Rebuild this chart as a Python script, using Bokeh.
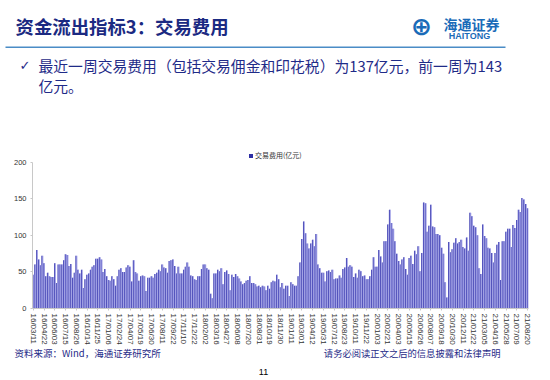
from bokeh.plotting import figure
from bokeh.layouts import column
from bokeh.models import (ColumnDataSource, Range1d, FixedTicker, Label, Legend,
                          LegendItem, BoxAnnotation)
from bokeh.embed import file_html
from bokeh.resources import INLINE

# ---------------- data ----------------
fees = [
    46, 60, 80, 67, 59, 72, 62, 44, 49, 44,
    43, 43, 62, 35, 60, 60, 60, 66, 74, 73,
    58, 61, 42, 49, 72, 53, 48, 53, 28, 40,
    46, 48, 53, 57, 59, 68, 68, 70, 67, 50,
    54, 44, 39, 38, 44, 40, 31, 44, 53, 55,
    50, 50, 56, 59, 57, 37, 66, 50, 48, 38,
    44, 45, 44, 24, 42, 42, 44, 42, 47, 49,
    53, 51, 60, 56, 55, 49, 65, 66, 67, 58,
    48, 57, 48, 48, 53, 57, 63, 57, 45, 44,
    40, 39, 44, 44, 54, 60, 60, 55, 53, 20,
    14, 48, 48, 53, 51, 55, 33, 50, 52, 47,
    25, 46, 43, 47, 44, 41, 37, 33, 35, 38,
    39, 44, 35, 35, 33, 30, 31, 29, 31, 30,
    25, 31, 27, 36, 38, 37, 46,
    40, 29, 35, 27, 31, 31, 17, 36, 33, 31,
    31, 44, 63, 95, 119, 103, 89, 82, 89, 94,
    85, 102, 60, 55, 49, 49, 37, 51, 52, 50,
    53, 40, 41, 41, 45, 42, 54, 56, 69,
    57, 59, 57, 43, 48, 42, 53, 51, 44, 45,
    40, 40, 44, 53, 70, 57, 57, 80, 71, 63,
    92, 92, 115, 135, 117, 109, 92, 75, 65, 60,
    67, 70, 54, 46, 69, 72, 61, 79, 74, 85,
    51, 76, 145, 144, 105, 113, 142, 112, 111, 102,
    102, 100, 83, 75, 36, 15, 91, 77, 81, 90,
    96, 89, 91, 94, 84, 82, 97, 79, 131, 126,
    113, 111, 100, 55, 47, 115, 99, 96, 83, 82,
    76, 63, 76, 87, 91, 39, 92, 92, 105, 109,
    109, 84, 114, 110, 121, 135, 132, 151, 149, 143,
    137,
]

tick_labels = [
    "16/03/11", "16/04/22", "16/06/03", "16/07/15", "16/08/26", "16/10/14",
    "16/11/25", "17/01/06", "17/02/24", "17/04/07", "17/05/19", "17/06/30",
    "17/08/11", "17/09/22", "17/11/10", "17/12/22", "18/02/02", "18/03/16",
    "18/04/27", "18/06/08", "18/07/20", "18/08/31", "18/10/19", "18/11/30",
    "19/01/11", "19/03/01", "19/04/12", "19/05/31", "19/07/12", "19/08/23",
    "19/10/11", "19/11/22", "20/01/03", "20/02/21", "20/04/03", "20/05/15",
    "20/06/26", "20/08/07", "20/09/18", "20/10/30", "20/12/11", "21/01/22",
    "21/03/05", "21/04/16", "21/05/28", "21/07/09", "21/08/20",
]
tick_step = 6
y_ticks = [0, 50, 100, 150, 200]
y_max = 200
series_name = "交易费用(亿元)"

title_text = "资金流出指标3：交易费用"
bullet_line1 = "最近一周交易费用（包括交易佣金和印花税）为137亿元，前一周为143"
bullet_line2 = "亿元。"
source_text = "资料来源：Wind，海通证券研究所"
disclaimer_text = "请务必阅读正文之后的信息披露和法律声明"
page_no = "11"

CJK = "Noto Sans CJK SC"
LAT = "Liberation Sans"
NAVY = "#1f2b88"
W = 550
HDR_H, CHART_H, FTR_H = 100, 247, 33


def no_align(f):
    try:
        f.frame_align = False
    except Exception:
        pass


def blank_fig(h):
    f = figure(width=W, height=h, output_backend="svg", toolbar_location=None,
               x_range=Range1d(0, W), y_range=Range1d(h, 0),
               x_axis_location=None, y_axis_location=None,
               min_border=0, min_border_left=0, min_border_right=0,
               min_border_top=0, min_border_bottom=0)
    f.grid.visible = False
    f.outline_line_color = None
    f.background_fill_color = "white"
    f.border_fill_color = "white"
    no_align(f)
    return f


def add_label(f, text, x, y, size, color, font=CJK, bold=False,
              align="left", baseline="middle"):
    f.add_layout(Label(x=x, y=y, text=text, text_font=font, text_font_size=size,
                       text_color=color,
                       text_font_style="bold" if bold else "normal",
                       text_align=align, text_baseline=baseline))


# ---------------- header (page coordinates) ----------------
hdr = blank_fig(HDR_H)
add_label(hdr, title_text, 15, 25, "18.4px", "#1b2a82", bold=True)
hdr.add_layout(BoxAnnotation(left=5, right=505, top=46, bottom=47.5,
                             fill_color="#4a8cc6", fill_alpha=1, line_color=None))
add_label(hdr, "⊕", 421, 26, "25px", "#1a6bb8", font="DejaVu Sans", bold=True,
          align="center")
add_label(hdr, "海通证券", 443, 23, "14px", "#1a6bb8", bold=True)
add_label(hdr, "HAITONG", 469, 35, "9px", "#1a6bb8", font=LAT, bold=True,
          align="center")
add_label(hdr, "✓", 19, 65, "13px", NAVY, font="DejaVu Sans")
add_label(hdr, bullet_line1, 38, 65, "14.8px", NAVY)
add_label(hdr, bullet_line2, 38, 85, "14.8px", NAVY)

# ---------------- chart ----------------
n = len(fees)
xs = list(range(n))
src = ColumnDataSource(dict(
    x=xs,
    xl=[i - 0.3 for i in xs],
    xr=[i + 0.3 for i in xs],
    top=fees,
))

p = figure(width=W, height=CHART_H, output_backend="svg", toolbar_location=None,
           x_range=Range1d(-0.5, n - 0.5), y_range=Range1d(0, 216),
           min_border_left=32, min_border_right=22,
           min_border_top=50, min_border_bottom=37)
no_align(p)
p.background_fill_color = "white"
p.border_fill_color = "white"
p.outline_line_color = None
p.grid.visible = False

p.vbar(x="x", top="top", width=0.92, source=src,
       fill_color="#7676d3", line_color=None)
r_dark = p.vbar(x="xl", top="top", width=0.26, source=src,
                fill_color="#2e2ea4", line_color=None)
p.vbar(x="xr", top="top", width=0.3, source=src,
       fill_color="#b4b4ee", line_color=None)

p.yaxis.ticker = FixedTicker(ticks=y_ticks)
p.yaxis.bounds = (0, y_max)
p.yaxis.major_label_text_font = LAT
p.yaxis.major_label_text_font_size = "7.5px"
p.yaxis.major_label_text_color = "#333333"
p.yaxis.axis_line_color = "#c8c8c8"
p.yaxis.major_tick_line_color = "#c8c8c8"
p.yaxis.major_tick_out = 2
p.yaxis.major_tick_in = 0
p.yaxis.minor_tick_line_color = None
p.yaxis.major_label_standoff = 4

xt = [i * tick_step for i in range(len(tick_labels))]
p.xaxis.ticker = FixedTicker(ticks=xt)
p.xaxis.major_label_overrides = {t: lab for t, lab in zip(xt, tick_labels)}
p.xaxis.major_label_orientation = "vertical"
p.xaxis.major_label_text_font = LAT
p.xaxis.major_label_text_font_size = "8px"
p.xaxis.major_label_text_color = "#333333"
p.xaxis.axis_line_color = "#c8c8c8"
p.xaxis.major_tick_line_color = "#c8c8c8"
p.xaxis.major_tick_out = 2
p.xaxis.major_tick_in = 0
p.xaxis.minor_tick_line_color = None
p.xaxis.major_label_standoff = 3

legend = Legend(items=[LegendItem(label=series_name, renderers=[r_dark])],
                location=(216, 148), orientation="horizontal",
                label_text_font=CJK, label_text_font_size="7px",
                label_text_color="#333333", glyph_width=5, glyph_height=5,
                label_standoff=2, padding=0, margin=0, spacing=0,
                background_fill_alpha=0, border_line_color=None,
                label_height=8)
p.add_layout(legend)

# ---------------- footer (page y - 347) ----------------
ftr = blank_fig(FTR_H)
add_label(ftr, source_text, 14, 5, "9.5px", NAVY)
add_label(ftr, disclaimer_text, 500, 5, "9.3px", NAVY, align="right")
add_label(ftr, page_no, 263, 24, "9px", "#000000", font=LAT, align="center")

layout = column(hdr, p, ftr, spacing=0)
open("out.html", "w").write(file_html(layout, INLINE))
